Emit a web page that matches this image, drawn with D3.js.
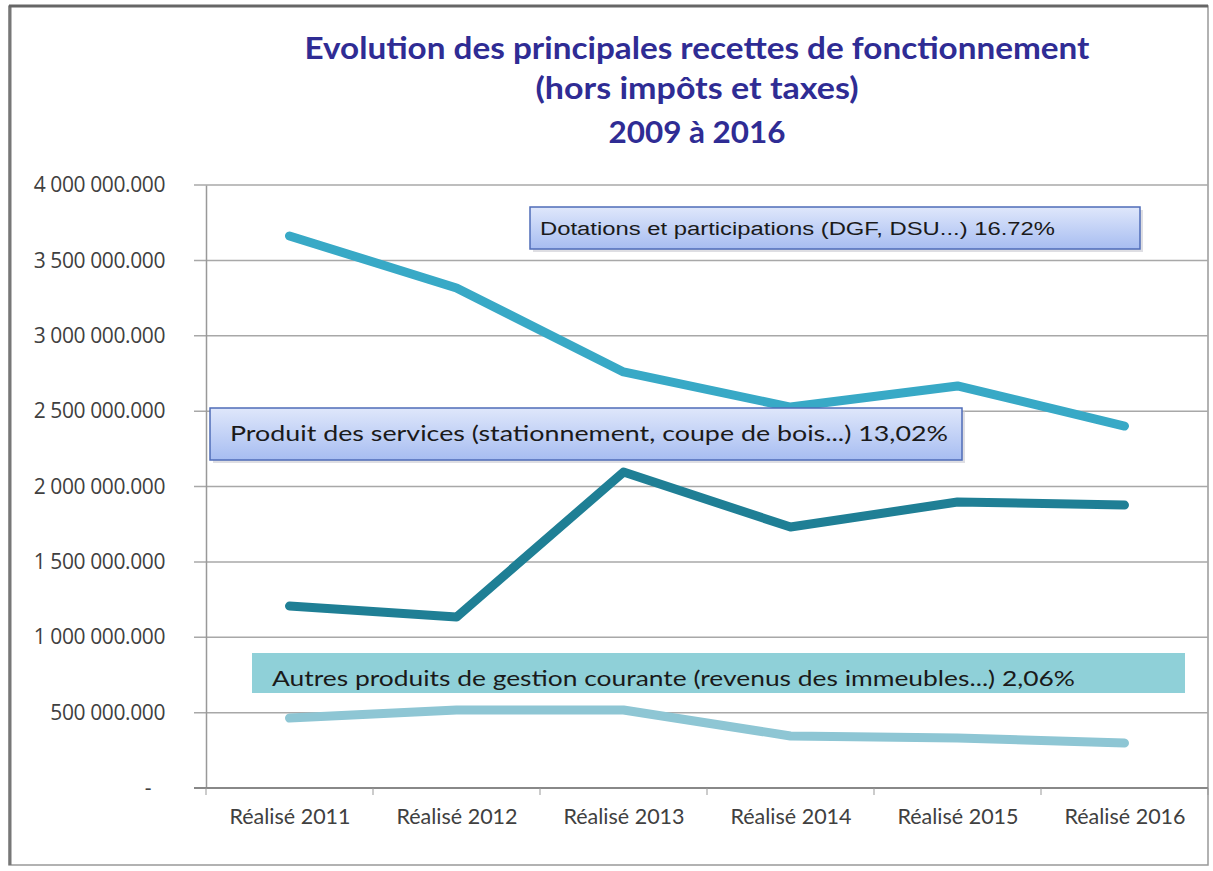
<!DOCTYPE html>
<html><head><meta charset="utf-8">
<script src="https://cdn.jsdelivr.net/npm/d3@7"></script>
<style>body{margin:0;background:#fff}</style>
</head><body><svg id="c" width="1213" height="871"></svg>
<script>
const categories = ["Réalisé 2011","Réalisé 2012","Réalisé 2013","Réalisé 2014","Réalisé 2015","Réalisé 2016"];
const dotations = [3662000, 3317000, 2760000, 2527000, 2667000, 2401000];
const produits = [1207000, 1134000, 2096000, 1731000, 1897000, 1877000];
const autres = [464000, 517000, 517000, 345000, 332000, 298000];
const yTicks = [0, 500000, 1000000, 1500000, 2000000, 2500000, 3000000, 3500000, 4000000];
const titleLines = ["Evolution des principales recettes de fonctionnement", "(hors impôts et taxes)", "2009 à 2016"];
const labelDot = "Dotations et participations (DGF, DSU...) 16.72%";
const labelProd = "Produit des services (stationnement, coupe de bois...) 13,02%";
const labelAut = "Autres produits de gestion courante (revenus des immeubles...) 2,06%";

const svg = d3.select("#c");
const pLeft = 206, pRight = 1208, pTop = 185, pBottom = 788;

// frame
svg.append("rect").attr("x",9).attr("y",6).attr("width",1199).attr("height",859)
  .attr("fill","#fff").attr("stroke","#999").attr("stroke-width",1.5);
svg.append("line").attr("x1",10).attr("x2",10).attr("y1",6).attr("y2",865).attr("stroke","#777").attr("stroke-width",3);
svg.append("line").attr("x1",9).attr("x2",1208).attr("y1",6).attr("y2",6).attr("stroke","#666").attr("stroke-width",3);

const defs = svg.append("defs");
const g1 = defs.append("linearGradient").attr("id","blueg").attr("x1",0).attr("y1",0).attr("x2",0).attr("y2",1);
g1.append("stop").attr("offset","0%").attr("stop-color","#dfe7fb");
g1.append("stop").attr("offset","100%").attr("stop-color","#a7bdf1");

const x = d3.scalePoint().domain(categories).range([pLeft, pRight]).padding(0.5);
const y = d3.scaleLinear().domain([0, 4000000]).range([pBottom, pTop]);

// title
const titleY = [59, 99, 143];
const titleW = [785, 323, 177];
svg.append("g").selectAll("text").data(titleLines).join("text")
  .attr("x", 697).attr("y", (d,i)=>titleY[i]).attr("text-anchor","middle")
  .attr("font-family","Lato, 'Open Sans', sans-serif").attr("font-weight","bold")
  .attr("font-size", 31).attr("fill","#2f2c94")
  .attr("textLength",(d,i)=>titleW[i]).attr("lengthAdjust","spacingAndGlyphs").text(d=>d);

// gridlines
svg.append("g").selectAll("line").data(yTicks.filter(d=>d>0)).join("line")
  .attr("x1", pLeft-12).attr("x2", pRight).attr("y1", d=>y(d)).attr("y2", d=>y(d))
  .attr("stroke","#a8a8a8").attr("stroke-width",1.5);

// y axis
const yAxis = d3.axisLeft(y).tickValues(yTicks).tickSize(0).tickPadding(41)
  .tickFormat(d => d===0 ? "-" : d3.format(",.3f")(d).replace(/,/g," "));
const ya = svg.append("g").attr("transform",`translate(${pLeft},0)`).call(yAxis);
ya.select(".domain").attr("stroke","#999").attr("stroke-width",1.5);
ya.selectAll("text").attr("font-family","'Open Sans', sans-serif").attr("font-size",21).attr("fill","#404040")
  .attr("letter-spacing",-0.4);
ya.selectAll(".tick").filter(d=>d===0).select("text").attr("dx",-14);

// x axis
const xAxis = d3.axisBottom(x).tickSize(0).tickPadding(21);
const xa = svg.append("g").attr("transform",`translate(0,${pBottom})`).call(xAxis);
xa.select(".domain").attr("stroke","#888").attr("stroke-width",2).attr("d",`M${pLeft-12},0H${pRight}`);
xa.selectAll("text").attr("font-family","Lato, sans-serif").attr("font-size",21.5).attr("fill","#404040");
// category separator ticks
const step = x.step();
svg.append("g").selectAll("line").data(d3.range(0, categories.length+1)).join("line")
  .attr("x1", i=>pLeft + i*step).attr("x2", i=>pLeft+i*step)
  .attr("y1", pBottom).attr("y2", pBottom+7).attr("stroke","#999").attr("stroke-width",1);

const line = d3.line().x((d,i)=>x(categories[i])).y(d=>y(d));
const series = [
  {v: autres, c:"#8ec6d4"},
  {v: produits, c:"#1f7f95"},
  {v: dotations, c:"#38a9c6"}
];
svg.append("g").selectAll("path").data(series).join("path")
  .attr("d", d=>line(d.v)).attr("fill","none").attr("stroke", d=>d.c)
  .attr("stroke-width", 9).attr("stroke-linecap","round").attr("stroke-linejoin","round");

// label boxes
function box(x0,y0,w,h,fill,stroke,txt,tx,ty,font,fs,tl){
  const g = svg.append("g");
  if (stroke) g.append("rect").attr("x",x0+3).attr("y",y0+3).attr("width",w).attr("height",h).attr("fill","#c8c8d0").attr("opacity",0.6);
  g.append("rect").attr("x",x0).attr("y",y0).attr("width",w).attr("height",h).attr("fill",fill)
    .attr("stroke",stroke||"none").attr("stroke-width",1.5);
  g.append("text").attr("x",tx).attr("y",ty).attr("font-family",font).attr("font-size",fs)
    .attr("fill","#1a1a1a").attr("textLength",tl).attr("lengthAdjust","spacingAndGlyphs").text(txt);
}
box(530,207,610,42,"url(#blueg)","#4f6cb8",labelDot,540,235,"'Liberation Sans', Arial, sans-serif",18,515);
box(210,408,752,52,"url(#blueg)","#4f6cb8",labelProd,230,441,"Lato, sans-serif",20.5,718);
box(252,653,933,40,"#8fd0d8",null,labelAut,272,686,"Lato, sans-serif",22,803);
</script></body></html>
